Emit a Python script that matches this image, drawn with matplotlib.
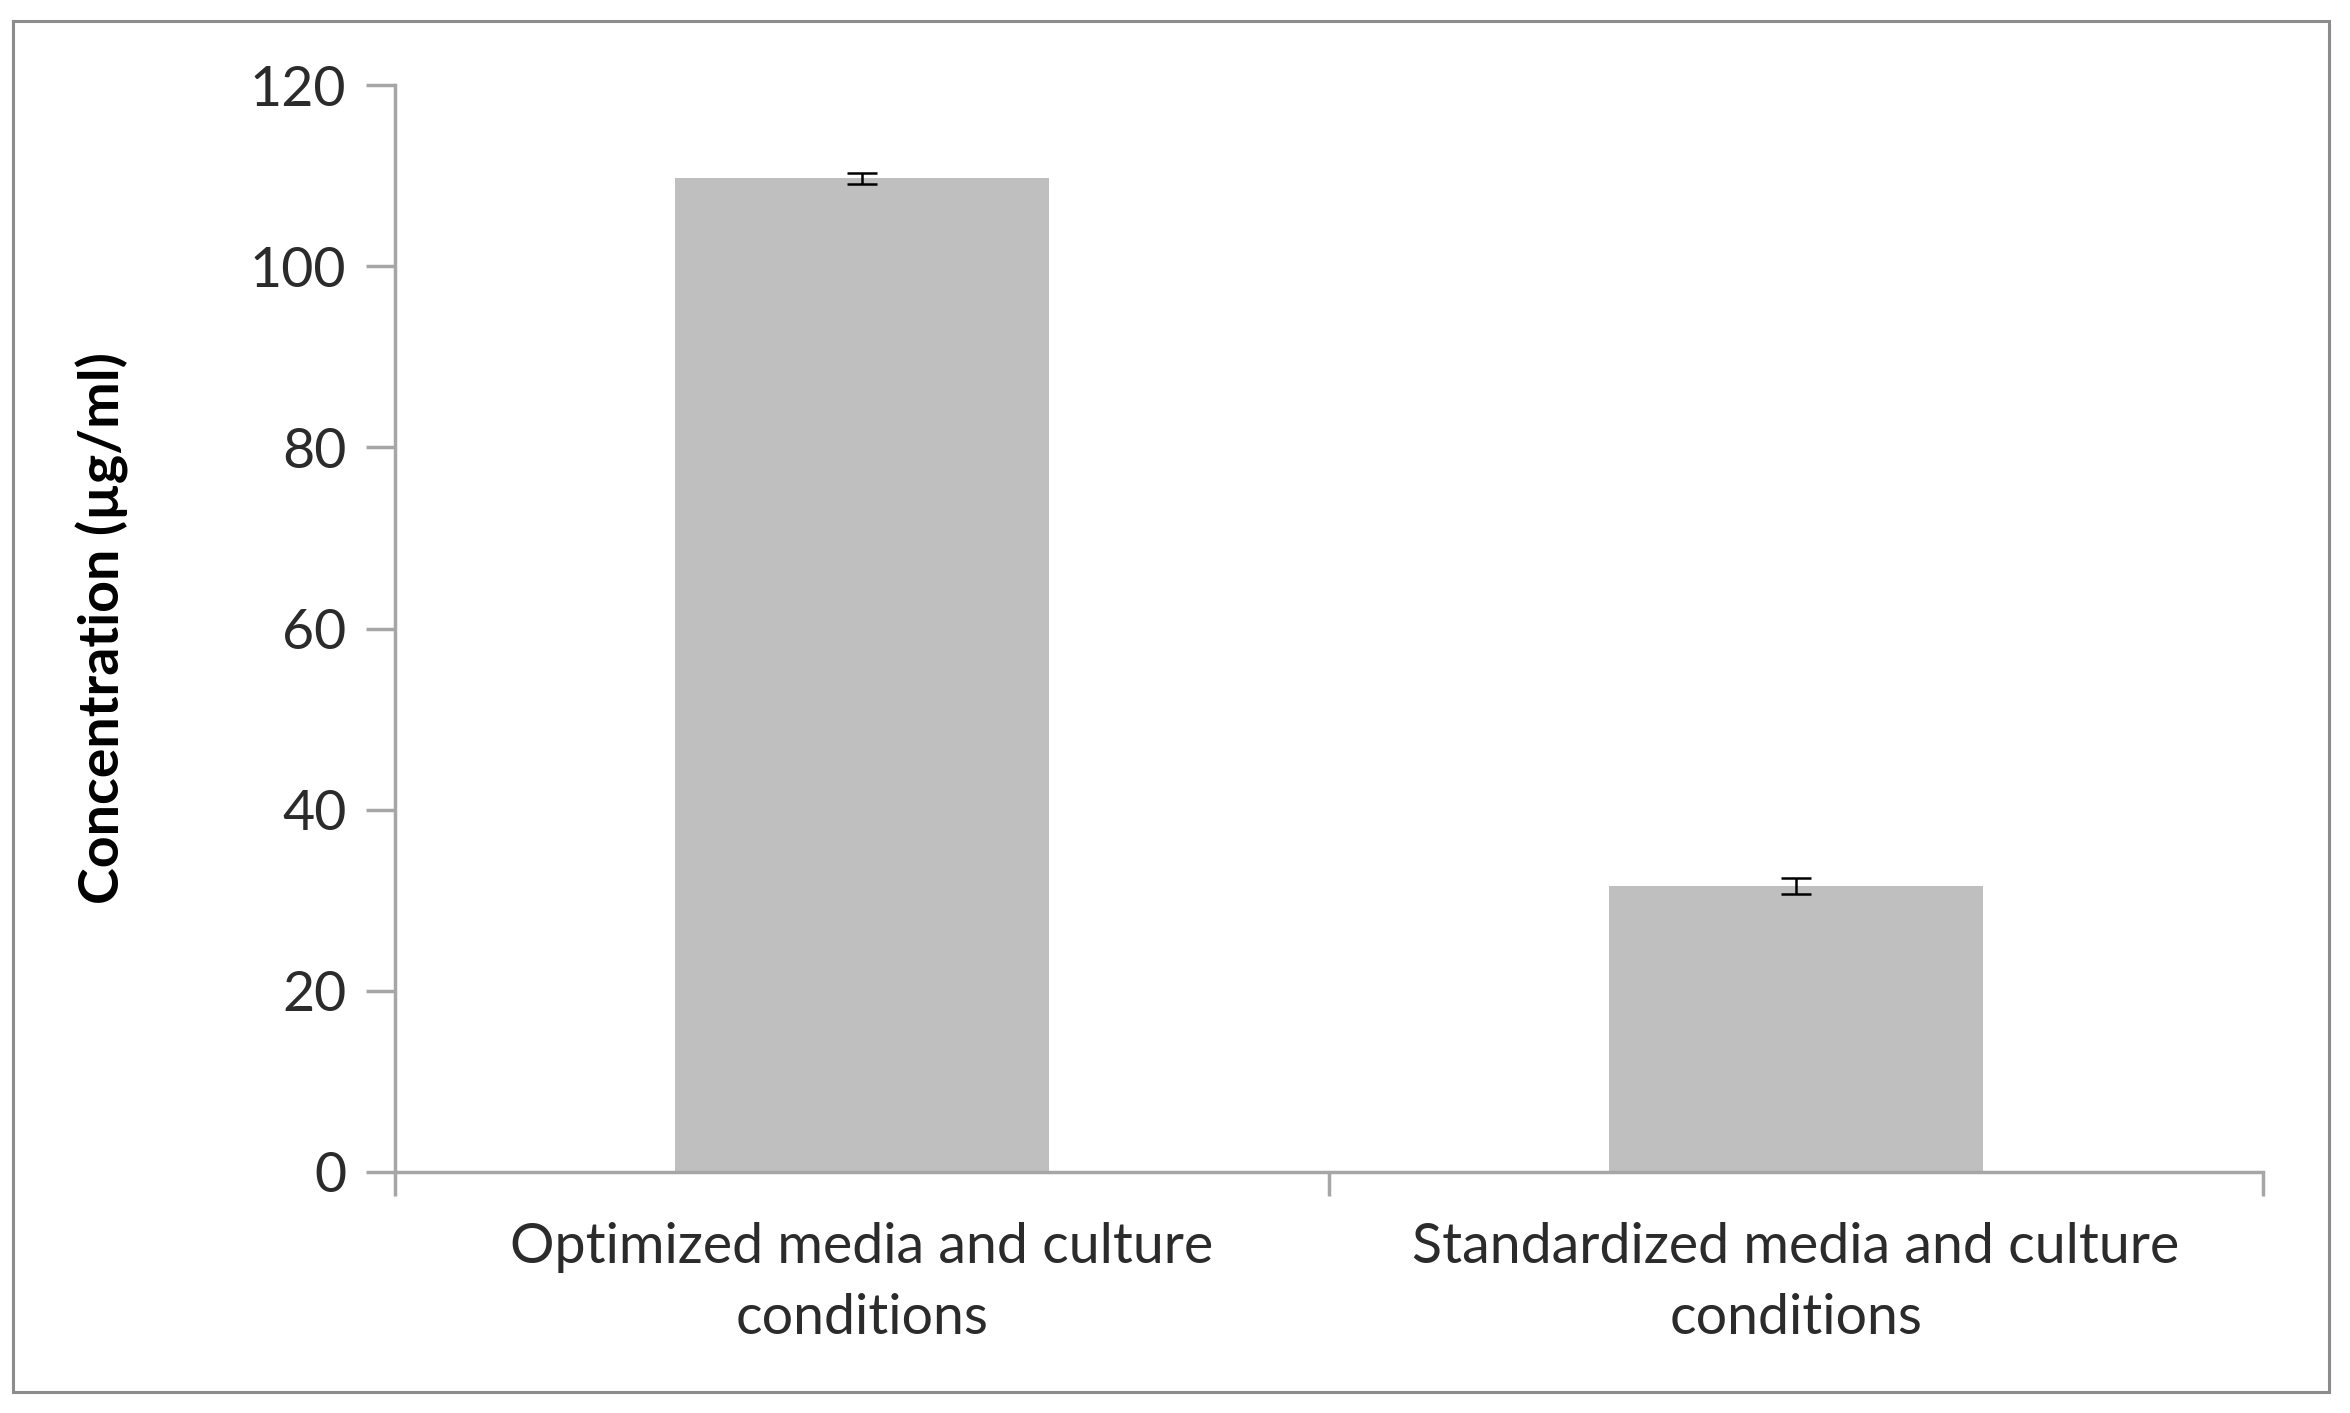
import matplotlib
matplotlib.use("Agg")
import matplotlib.pyplot as plt
from matplotlib.patches import Rectangle

categories = ["Optimized media and culture\nconditions", "Standardized media and culture\nconditions"]
values = [109.7, 31.6]
errors = [0.6, 0.9]
y_ticks = [0, 20, 40, 60, 80, 100, 120]

plt.rcParams["font.family"] = ["Lato", "DejaVu Sans"]
text_color = "#2b2b2b"
axis_color = "#A6A6A6"

fig = plt.figure(figsize=(23.5, 14.13), dpi=100)
ax = fig.add_axes([0.1681, 0.1706, 0.963 - 0.1681, 0.9398 - 0.1706])

x = list(range(len(categories)))
ax.bar(x, values, width=0.4, color="#BFBFBF", zorder=2)
ax.errorbar(x, values, yerr=errors, fmt="none", ecolor="black",
            elinewidth=1.8, capsize=11, capthick=1.8, zorder=3)

ax.set_xlim(-0.5, len(categories) - 0.5)
ax.set_ylim(0, 120)
ax.set_yticks(y_ticks)
ax.set_yticklabels([str(t) for t in y_ticks])

# ticks at category boundaries, labels at centres
ax.set_xticks([i - 0.5 for i in range(len(categories) + 1)])
ax.set_xticklabels([])
ax.set_xticks(x, minor=True)
ax.set_xticklabels(categories, minor=True, fontsize=40, color=text_color,
                   linespacing=1.48)
ax.tick_params(axis="x", which="minor", length=0, pad=36)
ax.tick_params(axis="x", which="major", length=17, width=2.5, color=axis_color)
ax.tick_params(axis="y", length=21, width=2.5, color=axis_color,
               labelsize=40, labelcolor=text_color, pad=14)

for side in ["top", "right"]:
    ax.spines[side].set_visible(False)
for side in ["left", "bottom"]:
    ax.spines[side].set_color(axis_color)
    ax.spines[side].set_linewidth(2.5)

ax.set_ylabel("Concentration (µg/ml)", fontsize=40, fontweight="bold",
              color="black")
ax.yaxis.set_label_coords(-0.1424, 0.5)

fig.patches.append(Rectangle((13 / 2350, 1 - 1392 / 1413), (2329 - 13) / 2350,
                             (1392 - 21) / 1413, transform=fig.transFigure,
                             fill=False, edgecolor="#8C8C8C", linewidth=2.2))

fig.savefig("out.png", dpi=100)
